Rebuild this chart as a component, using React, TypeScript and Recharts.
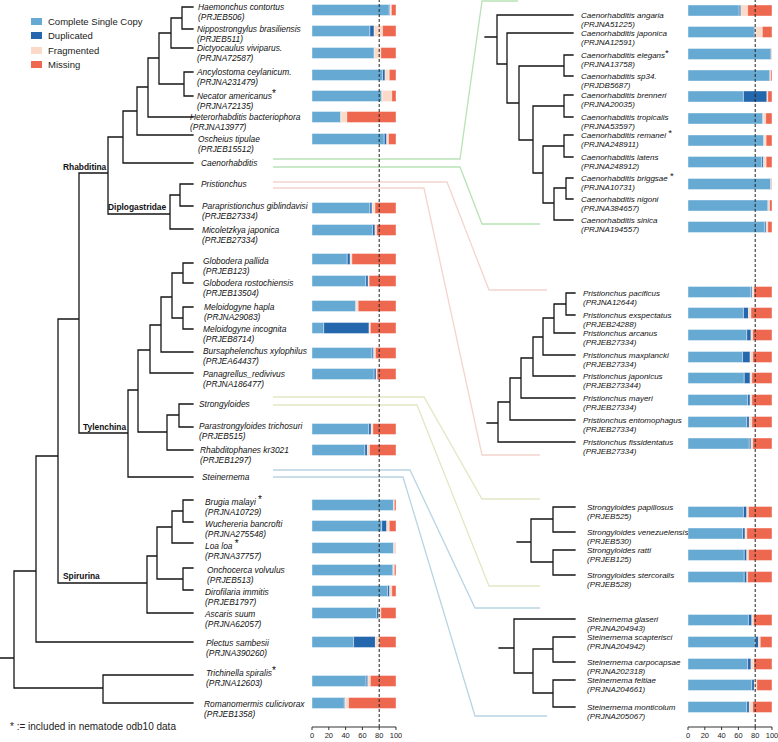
import React from 'react';
import {
  BarChart,
  Bar,
  XAxis,
  YAxis,
  ReferenceLine,
  Legend,
  ComposedChart,
  Line,
  Scatter,
} from 'recharts';

const FONT = '"Liberation Sans", Arial, Helvetica, sans-serif';

const COLORS = {
  single: '#66aad3',
  dup: '#2467ad',
  frag: '#fcdac8',
  miss: '#ee6850',
};

// ---- left panel species (the ones with bars) ----
const leftSpecies = [
  'Haemonchus contortus', 'Nippostrongylus brasiliensis', 'Dictyocaulus viviparus.',
  'Ancylostoma ceylanicum.', 'Necator americanus*', 'Heterorhabditis bacteriophora',
  'Oscheius tipulae', 'Parapristionchus giblindavisi', 'Micoletzkya japonica',
  'Globodera pallida', 'Globodera rostochiensis', 'Meloidogyne hapla',
  'Meloidogyne incognita', 'Bursaphelenchus xylophilus', 'Panagrellus_redivivus',
  'Parastrongyloides trichosuri', 'Rhabditophanes kr3021', 'Brugia malayi *',
  'Wuchereria bancrofti', 'Loa loa *', 'Onchocerca volvulus', 'Dirofilaria immitis',
  'Ascaris suum', 'Plectus sambesii', 'Trichinella spiralis*', 'Romanomermis culicivorax',
];
const leftAccessions = [
  'PRJEB506', 'PRJEB511', 'PRJNA72587', 'PRJNA231479', 'PRJNA72135', 'PRJNA13977',
  'PRJEB15512', 'PRJEB27334', 'PRJEB27334', 'PRJEB123', 'PRJEB13504', 'PRJNA29083',
  'PRJEB8714', 'PRJEA64437', 'PRJNA186477', 'PRJEB515', 'PRJEB1297', 'PRJNA10729',
  'PRJNA275548', 'PRJNA37757', 'PRJEB513', 'PRJEB1797', 'PRJNA62057', 'PRJNA390260',
  'PRJNA12603', 'PRJEB1358',
];
const leftSingle = [92, 69, 74, 84, 83, 34, 86, 69, 72, 42, 64, 52, 14, 71.5, 74, 67.5, 63, 97, 83, 97, 96, 90, 77, 49.5, 64.5, 38.5];
const leftDuplicated = [1, 5, 0.5, 3, 0.5, 0.5, 3, 2.5, 3, 3.5, 3, 0.5, 54, 2, 2.5, 3, 3, 0.5, 6, 0.5, 1, 2.5, 2.5, 26, 2, 1];
const leftFragmented = [1.5, 10, 7.5, 5, 11.5, 7, 2, 3.5, 2, 2, 1, 2.5, 1.5, 2, 1, 2, 2.5, 0.5, 3, 2, 1, 2.5, 2.5, 4.5, 3, 4];
const leftMissing = [5.5, 16, 18, 8, 5, 58.5, 9, 25, 23, 52.5, 32, 45, 30.5, 24.5, 22.5, 27.5, 31.5, 2, 8, 0.5, 2, 5, 18, 20, 30.5, 56.5];

// collapsed clades in the left tree, expanded on the right
const leftClades = ['Caenorhabditis', 'Pristionchus', 'Strongyloides', 'Steinernema'];
const cladeNames = ['Rhabditina', 'Diplogastridae', 'Tylenchina', 'Spirurina'];

// ---- right panel species ----
const rightSpecies = [
  'Caenorhabditis angaria', 'Caenorhabditis japonica', 'Caenorhabditis elegans*',
  'Caenorhabditis sp34.', 'Caenorhabditis brenneri', 'Caenorhabditis tropicalis',
  'Caenorhabditis remanei *', 'Caenorhabditis latens', 'Caenorhabditis briggsae *',
  'Caenorhabditis nigoni', 'Caenorhabditis sinica',
  'Pristionchus pacificus', 'Pristionchus exspectatus', 'Pristionchus arcanus',
  'Pristionchus maxplancki', 'Pristionchus japonicus', 'Pristionchus mayeri',
  'Pristionchus entomophagus', 'Pristionchus fissidentatus',
  'Strongyloides papillosus', 'Strongyloides venezuelensis', 'Strongyloides ratti',
  'Strongyloides stercoralis',
  'Steinernema glaseri', 'Steinernema scapterisci', 'Steinernema carpocapsae',
  'Steinernema feltiae', 'Steinernema monticolum',
];
const rightAccessions = [
  'PRJNA51225', 'PRJNA12591', 'PRJNA13758', 'PRJDB5687', 'PRJNA20035', 'PRJNA53597',
  'PRJNA248911', 'PRJNA248912', 'PRJNA10731', 'PRJNA384657', 'PRJNA194557',
  'PRJNA12644', 'PRJEB24288', 'PRJEB27334', 'PRJEB27334', 'PRJEB273344', 'PRJEB27334',
  'PRJEB27334', 'PRJEB27334',
  'PRJEB525', 'PRJEB530', 'PRJEB125', 'PRJEB528',
  'PRJNA204943', 'PRJNA204942', 'PRJNA202318', 'PRJNA204661', 'PRJNA205067',
];
const rightSingle = [61, 79, 99, 97, 66, 89, 90, 88, 98.5, 95, 91, 75, 66, 70, 65, 67, 71, 70, 73, 66, 65, 67, 67, 72, 80, 71, 76, 70];
const rightDuplicated = [2, 1, 0.3, 1, 28, 0.5, 0.5, 2, 0.5, 1, 2, 1.5, 6, 5, 9, 7, 3, 3, 2, 4, 3, 3, 3, 4, 4, 4, 3, 3];
const rightFragmented = [8, 8.5, 0.2, 0.5, 1, 3, 2.5, 3, 0.3, 1, 2, 2, 3, 2, 3, 2, 2, 3, 2, 2, 2, 2, 1, 2, 2, 3.5, 3, 4];
const rightMissing = [29, 11.5, 0.5, 1.5, 5, 7.5, 7, 7, 0.7, 3, 5, 21.5, 25, 23, 23, 24, 24, 24, 23, 28, 30, 28, 29, 22, 14, 21.5, 18, 23];

const axisTicks = [0, 20, 40, 60, 80, 100];
const threshold = 80;

// ---- layout (page units, used through the charts' scales) ----
const leftBarY = [10, 31, 53, 75, 96, 117, 139, 208, 230, 259, 281, 306, 328, 353, 374, 429, 450, 505, 526, 548, 570, 591, 613, 642, 681, 703];
const leftTipY = [7, 29, 48, 72, 96, 117, 135, 206, 229, 263, 283, 307, 329, 352, 373, 427, 450, 500, 522, 543, 568, 590, 613, 642, 675, 703];
const leftLabelY = [7, 29, 48, 72, 96, 117, 139, 206, 230, 261, 283, 307, 329, 351, 374, 426, 450, 502, 524, 546, 570, 592, 614, 643, 673, 704];
const leftLabelX = [198, 197, 197, 197, 197, 190, 198, 202, 202, 203, 203, 204, 203, 203, 203, 199, 200, 205, 205, 205, 207, 205, 205, 206, 206, 204];
const leftCladeY = [163, 184, 404, 477];
const leftCladeX = [201, 201, 199, 202];
const cladeLabelPos = [[63, 167], [108, 207], [83, 427], [63, 576]];

const rightBarY = [10.5, 32, 54, 75.5, 96.5, 118.5, 140.5, 162, 184, 205.5, 227, 292, 313, 335, 357, 378, 400, 422, 443.5, 512, 533.5, 555, 577, 620, 642, 664, 685, 707];
const rightTipY = [15, 33, 55, 76, 95, 117, 135, 157, 178, 199, 220, 293, 315, 333, 355, 376, 398, 420, 442, 507, 532, 550, 575, 619, 637, 662, 680, 707];
const rightLabelX = (i: number) => (i < 11 ? 581 : i < 19 ? 583 : 587);
const rightTipX = (i: number) => (i < 11 ? 573 : 575);

type TNode = { x: number; y: number; kids: TNode[] };
const N = (x: number, y: number, ...kids: TNode[]): TNode => ({ x, y, kids });
const lt = (i: number): TNode => ({ x: 193, y: leftTipY[i], kids: [] });
const lc = (i: number): TNode => ({ x: 193, y: leftCladeY[i], kids: [] });
const rt = (i: number): TNode => ({ x: rightTipX(i), y: rightTipY[i], kids: [] });

const leftTree = N(14, 658,
  N(36, 571,
    N(58, 456,
      N(79, 319,
        N(108, 173,
          N(123, 137,
            N(137, 111,
              N(148, 87,
                N(159, 58,
                  N(171, 33, N(182, 18, lt(0), lt(1)), lt(2)),
                  N(184, 84, lt(3), lt(4))),
                lt(5)),
              lt(6)),
            lc(0)),
          N(170, 214, N(180, 195, lc(1), lt(7)), lt(8))),
        N(128, 433,
          N(138, 390,
            N(150, 350,
              N(161, 325,
                N(172, 297, N(183, 273, lt(9), lt(10)), N(183, 318, lt(11), lt(12))),
                lt(13)),
              lt(14)),
            N(167, 432, N(179, 415, lc(2), lt(15)), lt(16))),
          lc(3))),
      N(147, 583,
        N(157, 556,
          N(172, 527, N(183, 511, lt(17), lt(18)), lt(19)),
          N(183, 579, lt(20), lt(21))),
        lt(22))),
    lt(23)),
  N(103, 688, lt(24), lt(25)));

const caenoTree = N(497, 37,
  rt(0),
  N(507, 64,
    rt(1),
    N(519, 103,
      N(564, 66, rt(2), rt(3)),
      N(533, 140,
        N(564, 106, rt(4), rt(5)),
        N(543, 173,
          N(564, 146, rt(6), rt(7)),
          N(554, 203, N(566, 188, rt(8), rt(9)), rt(10)))))));

const pristTree = N(498, 423,
  N(510, 402,
    N(521, 378,
      N(533, 358,
        N(543, 337,
          N(554, 318, N(566, 304, rt(11), rt(12)), rt(13)),
          rt(14)),
        rt(15)),
      rt(16)),
    rt(17)),
  rt(18));

const strongTree = N(531, 542, N(553, 519, rt(19), rt(20)), N(553, 562, rt(21), rt(22)));
const steinTree = N(514, 648, rt(23), N(533, 673, N(553, 649, rt(24), rt(25)), N(553, 693, rt(26), rt(27))));

type Pt = { x: number; y: number | null };
const treePoints = (root: TNode, stubX: number): Pt[] => {
  const pts: Pt[] = [{ x: stubX, y: root.y }, { x: root.x, y: root.y }, { x: root.x, y: null }];
  const walk = (n: TNode) => {
    n.kids.forEach((k) => {
      pts.push({ x: n.x, y: n.y }, { x: n.x, y: k.y }, { x: k.x, y: k.y }, { x: k.x, y: null });
      walk(k);
    });
  };
  walk(root);
  return pts;
};

const treeData = [
  ...treePoints(leftTree, 0),
  ...treePoints(caenoTree, 485),
  ...treePoints(pristTree, 487),
  ...treePoints(strongTree, 517),
  ...treePoints(steinTree, 499),
];

// guide lines from the collapsed clades to the expanded subtrees
const guides = [
  { color: '#b9e2b6', paths: [[[273, 159], [460, 159], [482, 1], [518, 1]], [[273, 167], [460, 167], [482, 224], [540, 224]]] },
  { color: '#f3d5cc', paths: [[[273, 182], [447, 182], [489, 290], [547, 290]], [[273, 188], [424, 188], [482, 455], [540, 455]]] },
  { color: '#e3e7c6', paths: [[[273, 397], [424, 397], [482, 499], [540, 499]], [[273, 405], [417, 405], [489, 586], [540, 586]]] },
  { color: '#b9d4e3', paths: [[[273, 470], [410, 470], [475, 608], [540, 608]], [[273, 477], [403, 477], [475, 716], [547, 716]]] },
];
const guideData = guides.map((g) =>
  g.paths.flatMap((p) => [...p.map(([x, y]) => ({ x, y } as Pt)), { x: p[p.length - 1][0], y: null }]),
);

const tipLabels = [
  ...leftSpecies.map((name, i) => ({ x: leftLabelX[i], y: leftLabelY[i], name, acc: leftAccessions[i], size: 8.4, gap: 10.5 })),
  ...leftClades.map((name, i) => ({ x: leftCladeX[i], y: leftCladeY[i], name, acc: '', size: 8.4, gap: 10.5 })),
  ...rightSpecies.map((name, i) => ({ x: rightLabelX(i), y: rightTipY[i], name, acc: rightAccessions[i], size: 8, gap: 9.5 })),
];
const cladeLabels = cladeNames.map((name, i) => ({ x: cladeLabelPos[i][0], y: cladeLabelPos[i][1], name }));

const leftRows = leftSpecies.map((name, i) => ({
  name,
  y: leftBarY[i],
  single: leftSingle[i],
  dup: leftDuplicated[i],
  frag: leftFragmented[i],
  miss: leftMissing[i],
}));
const rightRows = rightSpecies.map((name, i) => ({
  name,
  y: rightBarY[i],
  single: rightSingle[i],
  dup: rightDuplicated[i],
  frag: rightFragmented[i],
  miss: rightMissing[i],
}));

const TipText = (props: any) => {
  const { cx, cy, payload } = props;
  if (cx == null || cy == null) return null;
  const { name, acc, size, gap } = payload;
  const star = name.indexOf('*');
  const main = star >= 0 ? name.slice(0, star) : name;
  return (
    <g fontFamily={FONT} fontSize={size} fill="#111" fontStyle="italic">
      <text x={cx} y={cy} dy="0.35em">
        {main}
        {star >= 0 && (
          <tspan fontStyle="normal" fontSize={size * 1.2} dy={-2}>*</tspan>
        )}
      </text>
      {acc && (
        <text x={cx} y={cy + gap} dy="0.35em">({acc})</text>
      )}
    </g>
  );
};

const CladeText = (props: any) => {
  const { cx, cy, payload } = props;
  if (cx == null || cy == null) return null;
  return (
    <text x={cx} y={cy} dy="0.35em" fontFamily={FONT} fontSize={8.4} fontWeight="bold" fill="#111">
      {payload.name}
    </text>
  );
};

const LegendBox = ({ payload }: any) => (
  <div style={{ fontFamily: FONT, fontSize: 9.5, color: '#222' }}>
    {(payload || []).map((p: any) => (
      <div key={p.value} style={{ display: 'flex', alignItems: 'center', height: 14.2, whiteSpace: 'nowrap' }}>
        <span style={{ display: 'inline-block', width: 11, height: 7, background: p.color, marginRight: 6 }} />
        {p.value}
      </div>
    ))}
  </div>
);

const TreeLayer = () => (
  <ComposedChart width={778} height={742} margin={{ top: 0, right: 0, bottom: 0, left: 0 }}>
    <XAxis type="number" dataKey="x" domain={[0, 778]} hide allowDataOverflow />
    <YAxis type="number" dataKey="y" domain={[0, 742]} reversed hide allowDataOverflow />
    {guideData.map((d, i) => (
      <Line
        key={`g${i}`}
        data={d}
        dataKey="y"
        type="linear"
        stroke={guides[i].color}
        strokeWidth={1.3}
        dot={false}
        activeDot={false}
        connectNulls={false}
        isAnimationActive={false}
      />
    ))}
    <Line
      data={treeData}
      dataKey="y"
      type="linear"
      stroke="#151515"
      strokeWidth={1.3}
      strokeLinecap="square"
      dot={false}
      activeDot={false}
      connectNulls={false}
      isAnimationActive={false}
    />
    <Scatter data={tipLabels} shape={<TipText />} isAnimationActive={false} />
    <Scatter data={cladeLabels} shape={<CladeText />} isAnimationActive={false} />
  </ComposedChart>
);

const BuscoBars = ({ rows, legend }: { rows: any[]; legend?: boolean }) => (
  <BarChart
    width={96}
    height={742}
    data={rows}
    layout="vertical"
    margin={{ top: 0, right: 6, bottom: 0, left: 6 }}
  >
    <XAxis
      type="number"
      domain={[0, 100]}
      ticks={axisTicks}
      interval={0}
      height={15}
      tickSize={3}
      tickMargin={3}
      tick={{ fontSize: 7.5, fill: '#222', fontFamily: FONT }}
      axisLine={{ stroke: '#333' }}
      tickLine={{ stroke: '#333' }}
      allowDataOverflow
    />
    <YAxis type="number" dataKey="y" domain={[0, 727]} hide allowDataOverflow />
    <Bar dataKey="single" name="Complete Single Copy" stackId="b" fill={COLORS.single} stroke="#fff" strokeWidth={0.4} barSize={11} isAnimationActive={false} />
    <Bar dataKey="dup" name="Duplicated" stackId="b" fill={COLORS.dup} stroke="#fff" strokeWidth={0.4} barSize={11} isAnimationActive={false} />
    <Bar dataKey="frag" name="Fragmented" stackId="b" fill={COLORS.frag} stroke="#fff" strokeWidth={0.4} barSize={11} isAnimationActive={false} />
    <Bar dataKey="miss" name="Missing" stackId="b" fill={COLORS.miss} stroke="#fff" strokeWidth={0.4} barSize={11} isAnimationActive={false} />
    <ReferenceLine x={threshold} stroke="#222" strokeWidth={1} strokeDasharray="3 2" />
    {legend && (
      <Legend
        layout="vertical"
        align="center"
        verticalAlign="middle"
        content={<LegendBox />}
        wrapperStyle={{ left: -275, top: 14.6, width: 150, height: 60 }}
      />
    )}
  </BarChart>
);

export default function App() {
  return (
    <div style={{ position: 'absolute', left: 0, top: 0, width: 778, height: 742, background: '#fff', overflow: 'hidden' }}>
      <div style={{ position: 'absolute', left: 0, top: 0 }}>
        <TreeLayer />
      </div>
      <div style={{ position: 'absolute', left: 306, top: 0 }}>
        <BuscoBars rows={leftRows} legend />
      </div>
      <div style={{ position: 'absolute', left: 682, top: 0 }}>
        <BuscoBars rows={rightRows} />
      </div>
      <div
        style={{
          position: 'absolute',
          left: 10,
          top: 721,
          fontFamily: FONT,
          fontSize: 10,
          lineHeight: '12px',
          color: '#222',
          whiteSpace: 'nowrap',
        }}
      >
        * := included in nematode odb10 data
      </div>
    </div>
  );
}
